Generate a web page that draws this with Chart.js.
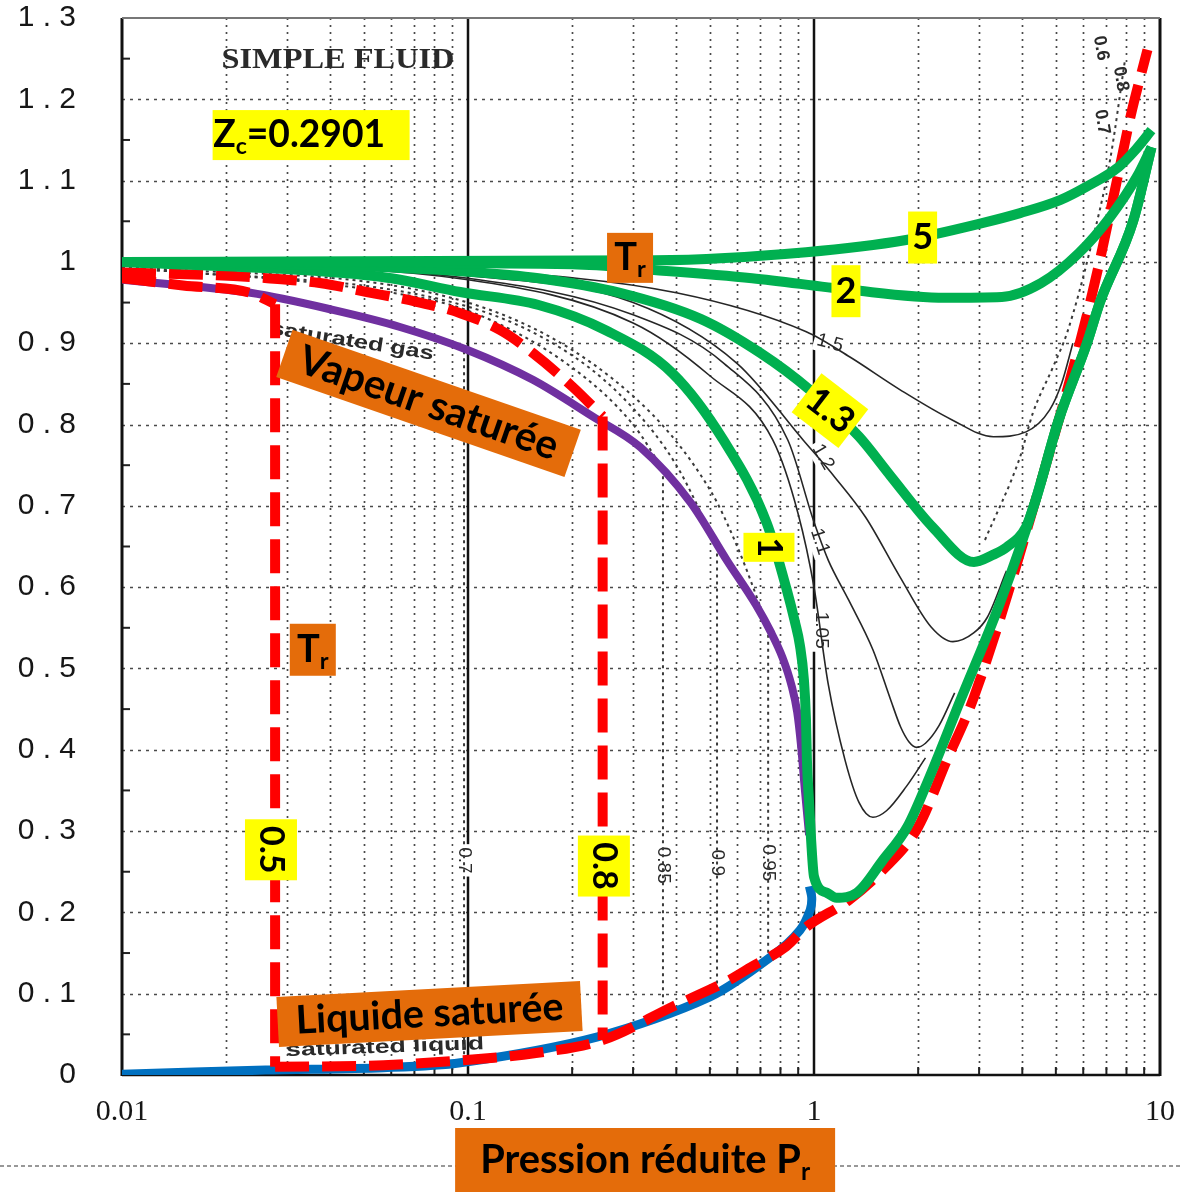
<!DOCTYPE html>
<html><head><meta charset="utf-8">
<script src="https://cdn.jsdelivr.net/npm/chart.js@4.4.1/dist/chart.umd.min.js"></script>
<style>html,body{margin:0;padding:0;background:#fff;}canvas{display:block;}</style>
</head><body>
<canvas id="c" width="1182" height="1192"></canvas>
<script>
// ---------------- DATA ----------------
const X_TICKS = [0.01, 0.1, 1, 10];
const X_TICK_LABELS = ['0.01', '0.1', '1', '10'];
const Y_TICKS = [0, 0.1, 0.2, 0.3, 0.4, 0.5, 0.6, 0.7, 0.8, 0.9, 1.0, 1.1, 1.2, 1.3];
const Y_TICK_LABELS = ['0','0 . 1','0 . 2','0 . 3','0 . 4','0 . 5','0 . 6','0 . 7','0 . 8','0 . 9','1','1 . 1','1 . 2','1 . 3'];
const X_GRID = [0.02,0.03,0.04,0.05,0.06,0.07,0.08,0.09,0.2,0.3,0.4,0.5,0.6,0.7,0.8,0.9,2,3,4,5,6,7,8,9];
const X_MAJOR = [0.1, 1];
const Y_GRID = [0.1,0.2,0.3,0.4,0.5,0.6,0.7,0.8,0.9,1.0,1.1,1.2];
const Y_MINOR = [0.05,0.15,0.25,0.35,0.45,0.55,0.65,0.75,0.85,0.95,1.05,1.15,1.25];

// Green isotherms (Tr = 5, 2, 1.3, 1)
const P_T5 = [0.01, 0.345, 0.948, 1.845, 3.08, 3.94, 5.14, 6.1, 7.6, 8.5, 9.45];
const Z_T5 = [1.0, 1.002, 1.012, 1.027, 1.048, 1.06, 1.076, 1.092, 1.117, 1.138, 1.162];
const P_T2 = [0.01, 0.2, 0.345, 0.662, 1.254, 2.39, 3.49, 4.53, 5.83, 7.17, 8.58, 9.45];
const Z_T2 = [1.0, 0.997, 0.99, 0.98, 0.966, 0.956, 0.957, 0.974, 1.011, 1.055, 1.105, 1.141];
const P_T13 = [0.01, 0.04, 0.1, 0.16, 0.275, 0.47, 0.7, 0.97, 1.35, 1.67, 2.2, 2.9, 3.3, 3.6, 4.1, 4.37, 5.1, 6.15, 6.7, 8.36, 9.45];
const Z_T13 = [1.0, 0.996, 0.988, 0.98, 0.962, 0.93, 0.888, 0.843, 0.785, 0.736, 0.674, 0.631, 0.64, 0.649, 0.674, 0.707, 0.806, 0.9, 0.95, 1.05, 1.141];
const P_T1 = [0.01, 0.039, 0.06, 0.095, 0.16, 0.25, 0.39, 0.547, 0.73, 0.834, 0.881, 0.91, 0.935, 0.948, 0.954, 0.967, 0.981, 1.0, 1.09, 1.16, 1.33, 1.58, 1.86, 2.16, 2.65, 3.43, 4.37, 5.1, 6.15, 6.7, 8.36, 9.45];
const Z_T1 = [1.0, 0.988, 0.98, 0.963, 0.947, 0.916, 0.863, 0.781, 0.679, 0.597, 0.557, 0.529, 0.486, 0.437, 0.387, 0.338, 0.289, 0.244, 0.224, 0.218, 0.224, 0.264, 0.305, 0.367, 0.461, 0.578, 0.707, 0.806, 0.9, 0.95, 1.05, 1.141];

// Saturation curves
const P_VAP = [0.01, 0.0235, 0.0407, 0.0636, 0.0993, 0.154, 0.229, 0.315, 0.44, 0.56, 0.68, 0.75, 0.81, 0.86, 0.894, 0.917, 0.941, 0.968];
const Z_VAP = [0.978, 0.962, 0.941, 0.92, 0.892, 0.855, 0.81, 0.772, 0.704, 0.633, 0.578, 0.545, 0.514, 0.48, 0.4465, 0.406, 0.351, 0.295];
const P_LIQ = [0.01, 0.026, 0.057, 0.095, 0.237, 0.5, 0.76, 0.91, 0.975, 0.985, 0.97];
const Z_LIQ = [0.001, 0.006, 0.009, 0.015, 0.047, 0.096, 0.147, 0.178, 0.203, 0.218, 0.232];

// Red dashed isotherms (Tr = 0.8 and 0.5)
const P_R08_GAS = [0.01, 0.0179, 0.0263, 0.0373, 0.051, 0.071, 0.095, 0.124, 0.154, 0.201, 0.245];
const Z_R08_GAS = [0.987, 0.984, 0.98, 0.974, 0.963, 0.951, 0.937, 0.916, 0.888, 0.846, 0.81];
const P_R08_VERT = [0.245, 0.245];
const Z_R08_VERT = [0.81, 0.043];
const P_R_LIQ = [0.0277, 0.057, 0.095, 0.157, 0.245, 0.39, 0.57, 0.66, 0.83, 0.95, 1.26, 1.58, 2.0, 2.42, 2.9, 4.37, 6.36, 7.55, 8.23, 9.2];
const Z_R_LIQ = [0.01, 0.012, 0.018, 0.027, 0.043, 0.084, 0.117, 0.133, 0.158, 0.182, 0.215, 0.252, 0.305, 0.387, 0.465, 0.707, 0.96, 1.105, 1.18, 1.261];
const P_R05_GAS = [0.01, 0.015, 0.0235, 0.0277];
const Z_R05_GAS = [0.98, 0.971, 0.962, 0.948];
const P_R05_VERT = [0.0277, 0.0277];
const Z_R05_VERT = [0.948, 0.01];

// Thin black isotherms of the scanned chart
const P_S105 = [0.01, 0.1, 0.3, 0.5, 0.76, 0.9, 1.0, 1.1, 1.23, 1.35, 1.48, 1.62, 1.85, 2.1];
const Z_S105 = [1.0, 0.978, 0.925, 0.86, 0.781, 0.69, 0.6, 0.48, 0.387, 0.335, 0.317, 0.325, 0.355, 0.39];
const P_S11 = [0.01, 0.1, 0.3, 0.55, 0.84, 1.0, 1.1, 1.26, 1.48, 1.67, 1.78, 1.88, 1.98, 2.1, 2.3, 2.55];
const Z_S11 = [1.0, 0.98, 0.935, 0.875, 0.781, 0.68, 0.633, 0.584, 0.523, 0.46, 0.428, 0.41, 0.403, 0.408, 0.43, 0.47];
const P_S12 = [0.01, 0.1, 0.3, 0.6, 0.93, 1.15, 1.41, 1.77, 2.18, 2.52, 2.9, 3.17, 3.6];
const Z_S12 = [1.0, 0.983, 0.95, 0.875, 0.781, 0.735, 0.686, 0.613, 0.551, 0.533, 0.544, 0.563, 0.62];
const P_S15 = [0.01, 0.1, 0.4, 0.95, 1.27, 1.77, 2.5, 3.3, 4.1, 4.8, 5.2, 5.6];
const Z_S15 = [1.0, 0.99, 0.962, 0.914, 0.883, 0.843, 0.806, 0.785, 0.791, 0.818, 0.851, 0.9];
// Dotted sub-critical isotherms of the scan
const P_D85 = [0.01, 0.05, 0.1, 0.2, 0.3, 0.366];
const Z_D85 = [0.993, 0.967, 0.94, 0.87, 0.8, 0.745];
const P_D90 = [0.01, 0.1, 0.2, 0.3, 0.4, 0.5245];
const Z_D90 = [0.994, 0.945, 0.885, 0.82, 0.75, 0.65];
const P_D95 = [0.01, 0.1, 0.3, 0.5, 0.6, 0.737];
const Z_D95 = [0.995, 0.95, 0.835, 0.72, 0.65, 0.55];
const P_DV70 = [0.0974, 0.0974]; const Z_DV70 = [0.89, 0.015];
const P_DV85 = [0.366, 0.366];   const Z_DV85 = [0.745, 0.065];
const P_DV90 = [0.5245, 0.5245]; const Z_DV90 = [0.65, 0.1];
const P_DV95 = [0.737, 0.737];   const Z_DV95 = [0.55, 0.14];
const P_DL1 = [3.12, 3.94, 4.29, 4.91, 5.39, 6.28, 7.17, 7.92];
const Z_DL1 = [0.658, 0.76, 0.814, 0.871, 0.913, 1.015, 1.125, 1.248];

// ---------------- STYLE ----------------
const GREEN = '#00B050', RED = '#FF0000', PURPLE = '#7030A0', BLUE = '#0070C0';
const YELLOW = '#FFFF00', ORANGE = '#E46C0A';
const LBL_FONT = 'Lato, "Open Sans", "Liberation Sans", sans-serif';

const pts = (P, Z) => P.map((p, i) => ({x: p, y: Z[i]}));
function ds(P, Z, style) {
  return Object.assign({data: pts(P, Z), pointRadius: 0, pointHoverRadius: 0, fill: false,
    borderCapStyle: 'butt', borderJoinStyle: 'round', cubicInterpolationMode: 'monotone'}, style);
}
const green = {borderColor: GREEN, borderWidth: 10, order: 1};
const red = {borderColor: RED, borderWidth: 10, borderDash: [34, 13], order: 2};
const redStraight = Object.assign({}, red, {cubicInterpolationMode: 'default', tension: 0});
const thin = {borderColor: '#262626', borderWidth: 1.6, order: 10};
const dot = {borderColor: '#3a3a3a', borderWidth: 2, borderDash: [3, 4], order: 11};
const dotV = Object.assign({}, dot, {cubicInterpolationMode: 'default', tension: 0});

const datasets = [
  ds(P_T5, Z_T5, green), ds(P_T2, Z_T2, green), ds(P_T13, Z_T13, green), ds(P_T1, Z_T1, green),
  ds(P_R08_GAS, Z_R08_GAS, red), ds(P_R08_VERT, Z_R08_VERT, redStraight),
  ds(P_R_LIQ, Z_R_LIQ, red), ds(P_R05_GAS, Z_R05_GAS, red), ds(P_R05_VERT, Z_R05_VERT, redStraight),
  ds(P_VAP, Z_VAP, {borderColor: PURPLE, borderWidth: 8, order: 3}),
  ds(P_LIQ, Z_LIQ, {borderColor: BLUE, borderWidth: 9, order: 4, cubicInterpolationMode: 'default', tension: 0.3}),
  ds(P_S105, Z_S105, thin), ds(P_S11, Z_S11, thin), ds(P_S12, Z_S12, thin), ds(P_S15, Z_S15, thin),
  ds(P_D85, Z_D85, dot), ds(P_D90, Z_D90, dot), ds(P_D95, Z_D95, dot), ds(P_DL1, Z_DL1, dot),
  ds(P_DV70, Z_DV70, dotV), ds(P_DV85, Z_DV85, dotV), ds(P_DV90, Z_DV90, dotV), ds(P_DV95, Z_DV95, dotV)
];

// Annotation boxes (data position of centre, pixel size)
const BOXES = [
  {seg: [['Z'], ['c', 1], ['=0.2901']], p: 0.0352, z: 1.156, w: 197, h: 50, bg: YELLOW, tw: 172, size: 38, dx: -12},
  {seg: [['T'], ['r', 1]], p: 0.294, z: 1.005, w: 46, h: 50, bg: ORANGE, size: 38},
  {seg: [['5']], p: 2.06, z: 1.03, w: 29, h: 52, bg: YELLOW, size: 36},
  {seg: [['2']], p: 1.237, z: 0.964, w: 29, h: 52, bg: YELLOW, size: 36},
  {seg: [['1.3']], p: 1.112, z: 0.817, w: 59, h: 49, bg: YELLOW, size: 36, ba: 37.5, ta: 37.5},
  {seg: [['1']], p: 0.741, z: 0.649, w: 51, h: 29, bg: YELLOW, size: 34, ta: 90},
  {seg: [['0.5']], p: 0.02695, z: 0.277, w: 52, h: 61, bg: YELLOW, size: 34, ta: 90},
  {seg: [['0.8']], p: 0.247, z: 0.257, w: 52, h: 61, bg: YELLOW, size: 34, ta: 90},
  {seg: [['T'], ['r', 1]], p: 0.0356, z: 0.523, w: 46, h: 52, bg: ORANGE, size: 38},
  {seg: [['Vapeur saturée']], p: 0.0769, z: 0.826, w: 305, h: 50, bg: ORANGE, tw: 272, size: 36, ba: 19.1, ta: 19.1},
  {seg: [['Liquide saturée']], p: 0.0774, z: 0.075, w: 304, h: 50, bg: ORANGE, tw: 268, size: 36, ba: -3, ta: -3}
];
// Texts printed on the scanned chart
const SCAN_TEXT = [
  {t: 'SIMPLE FLUID', p: 0.0421, z: 1.248, a: 0, size: 30, tw: 233, serif: 1, bold: 1},
  {t: 'saturated gas', p: 0.0462, z: 0.902, a: 9, size: 19, tw: 165, bold: 1},
  {t: 'saturated liquid', p: 0.0576, z: 0.034, a: -2, size: 19, tw: 198, bold: 1},
  {t: '0.7', p: 0.0974, z: 0.264, a: 90, size: 19, bg: 1},
  {t: '0.85', p: 0.366, z: 0.258, a: 90, size: 19, bg: 1},
  {t: '0.9', p: 0.5245, z: 0.261, a: 90, size: 19, bg: 1},
  {t: '0.95', p: 0.737, z: 0.261, a: 90, size: 19, bg: 1},
  {t: '1.5', p: 1.112, z: 0.90, a: 15, size: 19, bg: 1},
  {t: '1.2', p: 1.062, z: 0.76, a: 60, size: 19, bg: 1},
  {t: '1.1', p: 1.04, z: 0.656, a: 72, size: 19, bg: 1},
  {t: '1.05', p: 1.047, z: 0.547, a: 90, size: 19, bg: 1},
  {t: '0.6', p: 6.75, z: 1.263, a: 80, size: 18, bg: 1, bold: 1},
  {t: '0.8', p: 7.7, z: 1.225, a: 80, size: 18, bg: 1, bold: 1},
  {t: '0.7', p: 6.8, z: 1.172, a: 80, size: 18, bg: 1, bold: 1}
];

// ---------------- DRAW HELPERS ----------------
function segFont(size, sub) { return 'bold ' + (sub ? size * 0.62 : size) + 'px ' + LBL_FONT; }
function drawSegs(ctx, seg, size, tw, dx) {
  const measure = s => seg.reduce((acc, g) => { ctx.font = segFont(s, g[1]); return acc + ctx.measureText(g[0]).width; }, 0);
  if (tw) size = size * tw / measure(size);
  let x = -measure(size) / 2 + (dx || 0);
  ctx.fillStyle = '#000'; ctx.textAlign = 'left'; ctx.textBaseline = 'middle';
  seg.forEach(g => {
    ctx.font = segFont(size, g[1]);
    ctx.fillText(g[0], x, g[1] ? size * 0.3 : 0);
    x += ctx.measureText(g[0]).width;
  });
}

const scanPlugin = {
  id: 'scan',
  beforeDatasetsDraw(chart) {
    const {ctx, chartArea: ca, scales: {x: xs, y: ys}} = chart;
    ctx.save();
    const line = (x1, y1, x2, y2) => { ctx.beginPath(); ctx.moveTo(x1, y1); ctx.lineTo(x2, y2); ctx.stroke(); };
    // dotted grid
    ctx.strokeStyle = '#4a4a4a'; ctx.lineWidth = 1.7; ctx.setLineDash([2, 5]);
    X_GRID.forEach(v => { const x = Math.round(xs.getPixelForValue(v)) + 0.5; line(x, ca.top, x, ca.bottom); });
    ctx.setLineDash([3, 5]);
    Y_GRID.forEach(v => { const y = Math.round(ys.getPixelForValue(v)) + 0.5; line(ca.left, y, ca.right, y); });
    ctx.setLineDash([]);
    ctx.strokeStyle = '#111'; ctx.lineWidth = 2.5;
    X_MAJOR.forEach(v => { const x = Math.round(xs.getPixelForValue(v)); line(x, ca.top, x, ca.bottom); });
    // minor ticks
    ctx.lineWidth = 2; ctx.strokeStyle = '#222';
    Y_MINOR.forEach(v => { const y = ys.getPixelForValue(v); line(ca.left, y, ca.left + 8, y); });
    X_GRID.forEach(v => { const x = xs.getPixelForValue(v); line(x, ca.bottom, x, ca.bottom - 8); });
    // frame
    ctx.strokeStyle = '#111'; ctx.lineWidth = 3;
    line(ca.left, ca.top, ca.left, ca.bottom + 1);
    line(ca.right, ca.top, ca.right, ca.bottom + 1);
    ctx.lineWidth = 2.5; line(ca.left, ca.bottom, ca.right, ca.bottom);
    ctx.strokeStyle = '#777'; ctx.lineWidth = 2; line(ca.left, ca.top, ca.right, ca.top);
    // scanned texts
    SCAN_TEXT.forEach(s => {
      const cx = xs.getPixelForValue(s.p), cy = ys.getPixelForValue(s.z);
      ctx.save(); ctx.translate(cx, cy); ctx.rotate(s.a * Math.PI / 180);
      ctx.font = (s.bold ? 'bold ' : '') + s.size + 'px ' + (s.serif ? '"Liberation Serif", "DejaVu Serif", serif' : '"Liberation Sans", Arial, sans-serif');
      let w = ctx.measureText(s.t).width;
      let sx = 1;
      if (s.tw) { sx = s.tw / w; }
      if (s.bg) { ctx.fillStyle = '#fff'; ctx.fillRect(-w / 2 - 3, -s.size * 0.55, w + 6, s.size * 1.1); }
      ctx.scale(sx, 1);
      ctx.fillStyle = '#2a2a2a'; ctx.textAlign = 'center'; ctx.textBaseline = 'middle';
      ctx.fillText(s.t, 0, 0);
      ctx.restore();
    });
    ctx.restore();
  },
  afterDatasetsDraw(chart) {
    const {ctx, chartArea: ca, scales: {x: xs, y: ys}} = chart;
    ctx.save();
    BOXES.forEach(b => {
      const cx = xs.getPixelForValue(b.p), cy = ys.getPixelForValue(b.z);
      ctx.save(); ctx.translate(cx, cy);
      ctx.rotate((b.ba || 0) * Math.PI / 180);
      ctx.fillStyle = b.bg; ctx.fillRect(-b.w / 2, -b.h / 2, b.w, b.h);
      ctx.rotate(((b.ta || 0) - (b.ba || 0)) * Math.PI / 180);
      drawSegs(ctx, b.seg, b.size, b.tw, b.dx);
      ctx.restore();
    });
    // x-axis title with dashed rule
    const H = chart.height, W = chart.width;
    const ty = ca.bottom + 91;
    ctx.strokeStyle = '#333'; ctx.lineWidth = 1.2; ctx.setLineDash([4, 3]);
    ctx.beginPath(); ctx.moveTo(0, ty); ctx.lineTo(W, ty); ctx.stroke(); ctx.setLineDash([]);
    const tcx = xs.getPixelForValue(0.325);
    ctx.fillStyle = ORANGE; ctx.fillRect(tcx - 190, ca.bottom + 53, 380, H - ca.bottom - 53);
    ctx.save(); ctx.translate(tcx, ca.bottom + 85);
    drawSegs(ctx, [['Pression réduite P'], ['r', 1]], 38, 330);
    ctx.restore();
    ctx.restore();
  }
};

new Chart(document.getElementById('c'), {
  type: 'line',
  data: {datasets},
  plugins: [scanPlugin],
  options: {
    responsive: false, animation: false, events: [],
    layout: {padding: {left: 0, right: 22, top: 18, bottom: 0}},
    plugins: {legend: {display: false}, tooltip: {enabled: false}},
    scales: {
      x: {
        type: 'logarithmic', min: 0.01, max: 10, position: 'bottom',
        grid: {display: false, drawTicks: false}, border: {display: false},
        afterBuildTicks: s => { s.ticks = X_TICKS.map(v => ({value: v})); },
        afterFit: s => { s.height = 117; s.paddingLeft = 0; s.paddingRight = 0; },
        ticks: {autoSkip: false, maxRotation: 0, padding: 19, color: '#161616',
          font: {family: '"Liberation Serif", "DejaVu Serif", serif', size: 30},
          callback: (v, i) => X_TICK_LABELS[i]}
      },
      y: {
        type: 'linear', min: 0, max: 1.3,
        grid: {display: false, drawTicks: false}, border: {display: false},
        afterBuildTicks: s => { s.ticks = Y_TICKS.map(v => ({value: v})); },
        afterFit: s => { s.width = 122; s.paddingTop = 0; s.paddingBottom = 0; },
        ticks: {padding: 46, color: '#161616',
          font: {family: '"Liberation Sans", Arial, sans-serif', size: 30},
          callback: (v, i) => Y_TICK_LABELS[i]}
      }
    }
  }
});
</script>
</body></html>
